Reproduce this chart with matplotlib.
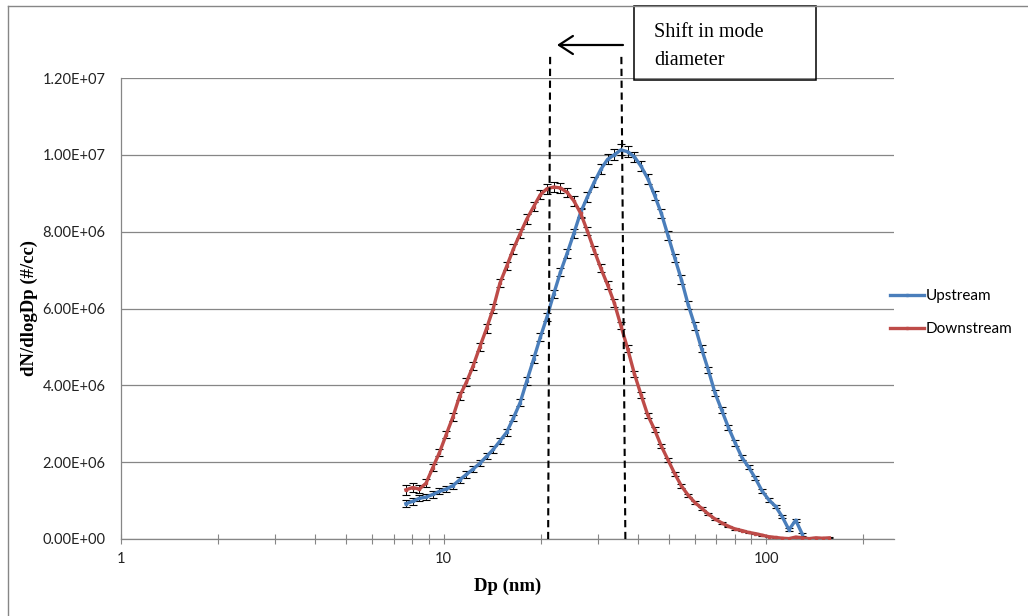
import matplotlib
matplotlib.use("Agg")
import matplotlib.pyplot as plt
from matplotlib.lines import Line2D
from matplotlib.patches import Rectangle
from matplotlib.ticker import FixedLocator, FuncFormatter, NullFormatter

# ---------------- data ----------------
dp_nm = [7.64, 8.02, 8.41, 8.82, 9.26, 9.71, 10.19, 10.69, 11.21, 11.77,
         12.34, 12.95, 13.59, 14.25, 14.95, 15.69, 16.46, 17.27, 18.12, 19.01,
         19.94, 20.92, 21.95, 23.03, 24.16, 25.35, 26.59, 27.90, 29.27, 30.71,
         32.22, 33.80, 35.46, 37.20, 39.03, 40.95, 42.96, 45.07, 47.29, 49.61,
         52.05, 54.61, 57.29, 60.11, 63.06, 66.16, 69.41, 72.82, 76.40, 80.15,
         84.09, 88.22, 92.56, 97.11, 101.88, 106.89, 112.14, 117.65, 123.43, 129.50,
         135.86, 142.54, 149.55, 156.90]

# dN/dlogDp in units of 1e6 #/cc
upstream = [0.92, 0.98, 1.06, 1.09, 1.16, 1.24, 1.30, 1.39, 1.54, 1.68,
            1.82, 1.97, 2.15, 2.33, 2.55, 2.78, 3.15, 3.55, 4.12, 4.68,
            5.25, 5.78, 6.38, 6.95, 7.44, 7.96, 8.50, 8.90, 9.28, 9.62,
            9.88, 10.00, 10.13, 10.08, 9.95, 9.70, 9.38, 8.95, 8.48, 7.90,
            7.32, 6.75, 6.10, 5.55, 4.95, 4.40, 3.80, 3.35, 2.90, 2.50,
            2.12, 1.87, 1.58, 1.25, 1.02, 0.85, 0.58, 0.24, 0.49, 0.12]
upstream_err = [0.10, 0.09, 0.08, 0.08, 0.08, 0.08, 0.08, 0.08, 0.08, 0.08,
                0.08, 0.08, 0.08, 0.09, 0.09, 0.09, 0.09, 0.10, 0.10, 0.10,
                0.10, 0.11, 0.11, 0.11, 0.12, 0.12, 0.12, 0.13, 0.13, 0.13,
                0.13, 0.14, 0.14, 0.14, 0.13, 0.13, 0.13, 0.12, 0.12, 0.12,
                0.11, 0.11, 0.10, 0.10, 0.09, 0.09, 0.08, 0.08, 0.07, 0.07,
                0.06, 0.06, 0.05, 0.05, 0.05, 0.04, 0.04, 0.04, 0.04, 0.03]

downstream = [1.28, 1.34, 1.30, 1.45, 1.86, 2.25, 2.72, 3.18, 3.72, 4.08,
              4.50, 5.00, 5.48, 6.00, 6.66, 7.10, 7.55, 7.95, 8.33, 8.65,
              8.96, 9.12, 9.16, 9.14, 9.02, 8.80, 8.48, 8.02, 7.52, 7.05,
              6.62, 6.15, 5.55, 4.95, 4.30, 3.75, 3.22, 2.85, 2.42, 2.06,
              1.70, 1.38, 1.14, 0.95, 0.80, 0.65, 0.52, 0.42, 0.33, 0.26,
              0.22, 0.17, 0.14, 0.10, 0.06, 0.04, 0.02, 0.01, 0.05, 0.03,
              0.01, 0.03, 0.02, 0.03]
downstream_err = [0.13, 0.12, 0.10, 0.10, 0.10, 0.10, 0.10, 0.10, 0.10, 0.10,
                  0.10, 0.10, 0.11, 0.11, 0.11, 0.11, 0.12, 0.12, 0.12, 0.12,
                  0.12, 0.13, 0.13, 0.13, 0.12, 0.12, 0.12, 0.11, 0.11, 0.11,
                  0.10, 0.10, 0.09, 0.09, 0.08, 0.08, 0.07, 0.07, 0.06, 0.06,
                  0.05, 0.05, 0.04, 0.04, 0.04, 0.03, 0.03, 0.03, 0.02, 0.02,
                  0.02, 0.02, 0.02, 0.01, 0.01, 0.01, 0.01, 0.01, 0.01, 0.01,
                  0.01, 0.01, 0.01, 0.01]

series_names = ["Upstream", "Downstream"]
series_colors = ["#4A7EBB", "#BE4B48"]

y_ticks = [0, 2e6, 4e6, 6e6, 8e6, 1.0e7, 1.2e7]
x_major = [1, 10, 100]
x_minor = [2, 3, 4, 5, 6, 7, 8, 9, 20, 30, 40, 50, 60, 70, 80, 90, 200]

# mode-diameter guide lines (Dp at top, Dp at bottom)
mode_down = (21.39, 21.09)
mode_up = (35.57, 36.60)
guide_top = 1.255e7

SCALE = 1e6

# ---------------- figure ----------------
W, H = 1028, 616
fig = plt.figure(figsize=(W / 100, H / 100), dpi=100)

def fx(px):
    return px / W

def fy(py):
    return 1 - py / H

AX_L, AX_R, AX_T, AX_B = 121, 894, 78, 539
ax = fig.add_axes([fx(AX_L), fy(AX_B), fx(AX_R) - fx(AX_L), fy(AX_T) - fy(AX_B)])

grid_col = "#868686"
tick_font = "Lato"
serif = "Liberation Serif"

for name, col, xs, ys, es in [
    (series_names[0], series_colors[0], dp_nm[:len(upstream)], upstream, upstream_err),
    (series_names[1], series_colors[1], dp_nm[:len(downstream)], downstream, downstream_err),
]:
    yv = [v * SCALE for v in ys]
    ev = [e * SCALE for e in es]
    ax.errorbar(xs, yv, yerr=ev, fmt="none", ecolor="black", elinewidth=0.7,
                capsize=3.0, capthick=0.8, zorder=2)
    ax.plot(xs, yv, color=col, lw=2.4, marker="s", ms=2.0, mec=col, mfc=col,
            label=name, zorder=3, solid_joinstyle="round")

ax.set_xscale("log")
ax.set_xlim(1, 249)
ax.set_ylim(0, 1.2e7)

ax.xaxis.set_major_locator(FixedLocator(x_major))
ax.xaxis.set_minor_locator(FixedLocator(x_minor))
ax.xaxis.set_major_formatter(FuncFormatter(lambda v, p: f"{v:g}"))
ax.xaxis.set_minor_formatter(NullFormatter())
ax.yaxis.set_major_locator(FixedLocator(y_ticks))
ax.yaxis.set_major_formatter(FuncFormatter(lambda v, p: f"{v:.2E}"))

ax.tick_params(axis="x", which="both", direction="inout", length=7, width=0.8,
               color=grid_col, pad=6, labelsize=10.5)
ax.tick_params(axis="y", which="both", length=0, pad=11, labelsize=10.5)
for lab in ax.get_xticklabels() + ax.get_yticklabels():
    lab.set_fontfamily(tick_font)
    lab.set_color("#222222")

for s in ["top", "right"]:
    ax.spines[s].set_visible(False)
for s in ["left", "bottom"]:
    ax.spines[s].set_color(grid_col)
    ax.spines[s].set_linewidth(0.9)

ax.yaxis.grid(True, color=grid_col, lw=0.9)
ax.set_axisbelow(True)

ax.set_xlabel("Dp (nm)", family=serif, weight="bold", fontsize=13.5, labelpad=8)
ax.set_ylabel("dN/dlogDp (#/cc)", family=serif, weight="bold", fontsize=13.5,
              va="center")
ax.yaxis.set_label_coords((29 - AX_L) / (AX_R - AX_L), 0.5)

# mode guide lines
for top_x, bot_x in (mode_down, mode_up):
    ax.add_line(Line2D([top_x, bot_x], [guide_top, 0], color="black", lw=1.5,
                       linestyle=(0, (3.5, 2.2)), clip_on=False, zorder=5))

# arrow
ax.annotate("", xy=(fx(557), fy(45)), xycoords="figure fraction",
            xytext=(fx(623), fy(45)), textcoords="figure fraction",
            arrowprops=dict(arrowstyle="->, head_length=1.0, head_width=0.65",
                            lw=1.6, color="black", shrinkA=0, shrinkB=0))

# text box
fig.patches.append(Rectangle((fx(634), fy(80)), fx(816) - fx(634), fy(6) - fy(80),
                             transform=fig.transFigure, fill=False, ec="black", lw=1.1))
fig.text(fx(654), fy(37), "Shift in mode", family=serif, fontsize=14.5, va="baseline")
fig.text(fx(654), fy(65), "diameter", family=serif, fontsize=14.5, va="baseline")

# outer chart border (partially cropped)
fig.lines.append(Line2D([fx(8), 1.0], [fy(6), fy(6)], transform=fig.transFigure,
                        color=grid_col, lw=1.0))
fig.lines.append(Line2D([fx(8), fx(8)], [fy(6), 0.0], transform=fig.transFigure,
                        color=grid_col, lw=1.0))

# legend
leg = ax.legend(loc="upper left", bbox_to_anchor=(fx(890), fy(289)),
                bbox_transform=fig.transFigure, frameon=False, borderpad=0,
                borderaxespad=0, handlelength=2.2, handletextpad=0.15,
                labelspacing=1.25, prop={"family": tick_font, "size": 11})

fig.savefig("out.png", dpi=100)
